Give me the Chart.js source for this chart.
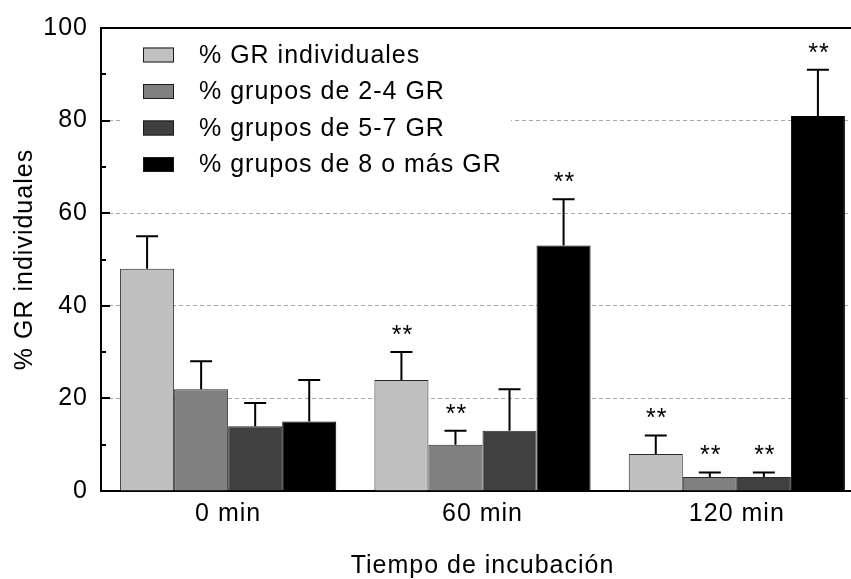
<!DOCTYPE html>
<html>
<head>
<meta charset="utf-8">
<script src="https://cdn.jsdelivr.net/npm/chart.js@4.4.1/dist/chart.umd.min.js"></script>
<style>
  html, body { margin: 0; padding: 0; background: #fff; overflow: hidden; }
  #wrap { width: 851px; height: 579px; overflow: hidden; }
  canvas { display: block; }
</style>
</head>
<body>
<div id="wrap"><canvas id="c" width="864" height="579" style="width:864px;height:579px"></canvas></div>
<script>
// Incubation times on the x axis
const categories = ['0 min', '60 min', '120 min'];

// Series names
const seriesNames = ['% GR individuales', '% grupos de 2-4 GR', '% grupos de 5-7 GR', '% grupos de 8 o más GR'];

// Mean percentages per incubation time
const individuales = [48, 24, 8];
const grupos2a4 = [22, 10, 3];
const grupos5a7 = [14, 13, 3];
const grupos8mas = [15, 53, 81];

// Upper error (SD) for each mean
const individualesErr = [7, 6, 4];
const grupos2a4Err = [6, 3, 1];
const grupos5a7Err = [5, 9, 1];
const grupos8masErr = [9, 10, 10];

// Significance marks (**) drawn above the error bars
const individualesSig = [false, true, true];
const grupos2a4Sig = [false, true, true];
const grupos5a7Sig = [false, false, true];
const grupos8masSig = [false, true, true];

// Y axis range and tick step
const yMin = 0, yMax = 100, yStep = 20, yMinorStep = 10;

const fills = ['#c0c0c0', '#808080', '#404040', '#000000'];
const values = [individuales, grupos2a4, grupos5a7, grupos8mas];
const errors = [individualesErr, grupos2a4Err, grupos5a7Err, grupos8masErr];
const sigs = [individualesSig, grupos2a4Sig, grupos5a7Sig, grupos8masSig];

const FONT = 'Liberation Sans, Arial, Helvetica, sans-serif';
const SPACING = '1px';
const FSIZE = 25;

const spacingPlugin = {
  id: 'spacing',
  beforeLayout(chart) { chart.ctx.letterSpacing = SPACING; },
  beforeDraw(chart) { chart.ctx.letterSpacing = SPACING; }
};

// White legend panel inside the plot, above the grid lines
const legendPanel = {
  id: 'legendPanel',
  beforeDatasetsDraw(chart) {
    const ctx = chart.ctx;
    const area = chart.chartArea;
    ctx.save();
    ctx.fillStyle = '#ffffff';
    ctx.fillRect(area.left + 22, area.top + 2, 388, 163);
    const boxX = area.left + 42, boxW = 31, boxH = 15;
    const rowY0 = area.top + 27, rowGap = 36.5;
    ctx.font = FSIZE + 'px ' + FONT;
    ctx.letterSpacing = SPACING;
    ctx.textBaseline = 'middle';
    ctx.textAlign = 'left';
    chart.data.datasets.forEach((ds, i) => {
      const cy = rowY0 + i * rowGap;
      ctx.fillStyle = ds.backgroundColor;
      ctx.fillRect(boxX, cy - boxH / 2, boxW, boxH);
      ctx.strokeStyle = '#1a1a1a';
      ctx.lineWidth = 1;
      ctx.strokeRect(boxX + 0.5, cy - boxH / 2 + 0.5, boxW - 1, boxH - 1);
      ctx.fillStyle = '#000';
      ctx.fillText(ds.label, boxX + boxW + 25, cy + 1);
    });
    ctx.restore();
  }
};

// Upper error bars, significance marks, inner ticks and frame
const decorations = {
  id: 'decorations',
  afterDatasetsDraw(chart) {
    const ctx = chart.ctx;
    const y = chart.scales.y;
    const area = chart.chartArea;
    ctx.save();
    ctx.strokeStyle = '#000';
    ctx.lineWidth = 2;
    chart.data.datasets.forEach((ds, di) => {
      const meta = chart.getDatasetMeta(di);
      meta.data.forEach((bar, i) => {
        const top = y.getPixelForValue(ds.data[i]);
        const capY = y.getPixelForValue(ds.data[i] + errors[di][i]);
        ctx.beginPath();
        ctx.moveTo(bar.x, top);
        ctx.lineTo(bar.x, capY);
        ctx.moveTo(bar.x - 11, capY);
        ctx.lineTo(bar.x + 11, capY);
        ctx.stroke();
        if (sigs[di][i]) {
          ctx.font = FSIZE + 'px ' + FONT;
          ctx.letterSpacing = SPACING;
          ctx.fillStyle = '#000';
          ctx.textAlign = 'center';
          ctx.textBaseline = 'alphabetic';
          ctx.fillText('**', bar.x + 1, capY - 9);
        }
      });
    });
    // inner ticks on the y axis
    ctx.lineWidth = 2;
    for (let v = yMin; v <= yMax; v += yMinorStep) {
      const py = Math.round(y.getPixelForValue(v));
      const len = (v % yStep === 0) ? 9 : 5;
      ctx.beginPath();
      ctx.moveTo(area.left, py);
      ctx.lineTo(area.left + len, py);
      ctx.stroke();
    }
    // top frame line
    ctx.beginPath();
    ctx.moveTo(area.left - 1, area.top);
    ctx.lineTo(area.right, area.top);
    ctx.stroke();
    ctx.restore();
  }
};

new Chart(document.getElementById('c'), {
  type: 'bar',
  data: {
    labels: categories,
    datasets: values.map((vals, i) => ({
      label: seriesNames[i],
      data: vals,
      backgroundColor: fills[i],
      borderColor: i === 3 ? '#000' : '#2a2a2a',
      borderWidth: 1,
      categoryPercentage: 0.85,
      barPercentage: 1.0
    }))
  },
  options: {
    responsive: false,
    animation: false,
    devicePixelRatio: 1,
    layout: { padding: { top: 27, right: 0, bottom: 0, left: 0 } },
    plugins: { legend: { display: false }, tooltip: { enabled: false } },
    scales: {
      x: {
        grid: { display: false, drawTicks: false },
        border: { display: true, color: '#000', width: 2 },
        ticks: { color: '#000', font: { family: FONT, size: FSIZE }, padding: 8 },
        title: { display: true, text: 'Tiempo de incubación', color: '#000',
                 font: { family: FONT, size: FSIZE }, padding: { top: 0, bottom: -2 } },
        afterFit(s) { s.height = 88; }
      },
      y: {
        min: yMin, max: yMax,
        ticks: { stepSize: yStep, color: '#000', font: { family: FONT, size: FSIZE }, padding: 13 },
        grid: {
          drawTicks: false,
          color: ctx => (ctx.tick && ctx.tick.value > yMin && ctx.tick.value < yMax) ? '#a8a8a8' : 'rgba(0,0,0,0)',
          lineWidth: 1
        },
        border: { display: true, color: '#000', width: 2, dash: [4, 3] },
        title: { display: true, text: '% GR individuales', color: '#000',
                 font: { family: FONT, size: FSIZE }, padding: { top: 10, bottom: 0 } },
        afterFit(s) { s.width = 101; }
      }
    }
  },
  plugins: [spacingPlugin, legendPanel, decorations]
});
</script>
</body>
</html>
